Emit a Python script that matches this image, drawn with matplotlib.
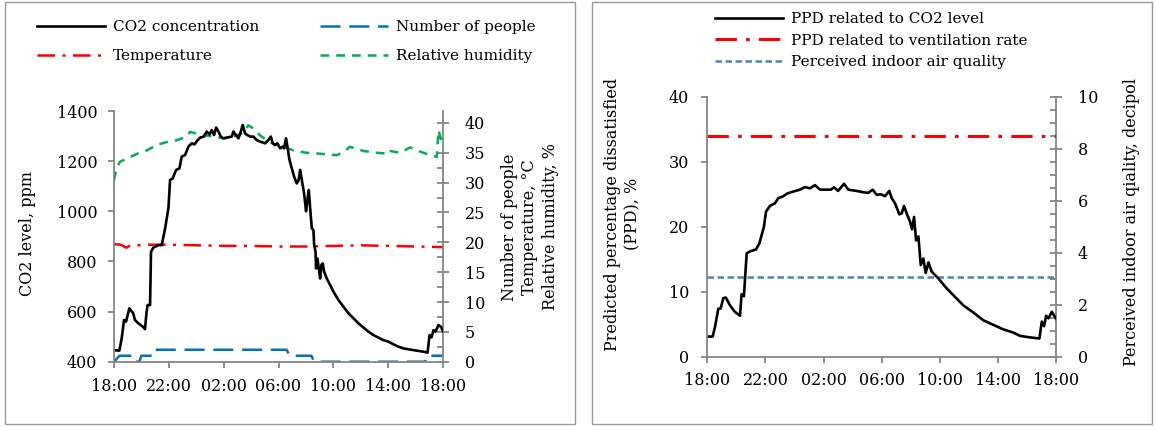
import matplotlib
matplotlib.use('Agg')
import matplotlib.pyplot as plt
from matplotlib.patches import Rectangle
from matplotlib.ticker import MultipleLocator

W, H = 1155, 426

# time axis: hours after 18:00
hour_ticks = [0, 4, 8, 12, 16, 20, 24]
hour_labels = ['18:00', '22:00', '02:00', '06:00', '10:00', '14:00', '18:00']

# --- left panel: measured indoor conditions ---
co2_t = [0, 0.39, 0.56, 0.73, 0.88, 1.12, 1.4, 1.53, 1.78, 2.1, 2.26, 2.38,
         2.45, 2.63, 2.7, 2.87, 3.24, 3.48, 3.73, 3.97, 4.09, 4.28, 4.53,
         4.77, 4.94, 5.18, 5.43, 5.67, 5.87, 6.11, 6.28, 6.57, 6.76, 6.96,
         7.13, 7.3, 7.45, 7.62, 7.79, 7.98, 8.23, 8.59, 8.71, 8.9, 9.08,
         9.25, 9.39, 9.56, 9.73, 9.93, 10.17, 10.41, 10.66, 11.02, 11.26,
         11.44, 11.58, 11.75, 11.92, 12.12, 12.31, 12.41, 12.55, 12.65,
         12.8, 12.97, 13.14, 13.33, 13.45, 13.58, 13.7, 13.87, 14.01, 14.11,
         14.21, 14.31, 14.43, 14.55, 14.6, 14.7, 14.74, 14.84, 14.94, 15.04,
         15.13, 15.23, 15.33, 15.52, 15.77, 16.01, 16.37, 16.74, 17.11,
         17.47, 17.83, 18.2, 18.56, 18.93, 19.29, 19.66, 20.02, 20.39,
         20.75, 21.12, 22.09, 22.58, 22.87, 23.02, 23.16, 23.31, 23.45,
         23.67, 23.84, 24.0]
co2_ppm = [446, 444, 493, 566, 560, 613, 593, 566, 553, 540, 530, 600,
           626, 626, 839, 855, 865, 865, 932, 1012, 1125, 1131, 1165,
           1171, 1218, 1224, 1258, 1271, 1267, 1284, 1294, 1298, 1318, 1307,
           1324, 1304, 1334, 1318, 1298, 1291, 1294, 1298, 1318, 1304, 1291,
           1318, 1344, 1311, 1304, 1298, 1298, 1284, 1278, 1271, 1284,
           1298, 1271, 1264, 1271, 1251, 1258, 1251, 1291, 1258,
           1205, 1171, 1138, 1111, 1121, 1165, 1125, 1070, 1000, 1045,
           1085, 1012, 932, 925, 865, 839, 772, 812, 772, 732,
           786, 792, 759, 732, 706, 679, 646, 619, 593,
           573, 553, 536, 520, 506, 496, 486, 480, 469,
           460, 453, 444, 440, 436, 506, 497, 526, 520,
           546, 540, 522]

people_t = [0, 0.4, 1.4, 1.55, 1.85, 2.0, 2.8, 2.92, 12.6, 12.8, 14.4, 14.6,
            22.7, 22.85, 24]
people_n = [0, 1, 1, 0, 0, 1, 1, 2, 2, 1, 1, 0, 0, 1, 1]

temp_t = [0, 0.5, 0.9, 1.2, 1.8, 2.3, 4, 6, 8, 10, 12, 14, 16, 18, 20, 22, 24]
temp_c = [19.7, 19.6, 19.1, 19.5, 19.5, 19.6, 19.6, 19.5, 19.4, 19.4, 19.3,
          19.3, 19.4, 19.5, 19.4, 19.3, 19.2]

rh_t = [0, 0.2, 0.44, 0.92, 1.65, 2.4, 3.1, 3.85, 4.57, 5.3, 5.55, 6.03,
        6.76, 7.25, 7.98, 8.7, 9.3, 9.56, 9.8, 10.17, 10.66, 11.14, 11.63,
        12.36, 13.1, 14.06, 15.28, 16.25, 16.74, 17.2, 18.2, 19.17, 19.78,
        19.9, 20.88, 21.6, 22.1, 22.58, 23.07, 23.55, 23.67, 23.8, 24.0]
rh_pct = [30.4, 32.6, 33.5, 34.0, 34.8, 35.4, 36.3, 36.8, 37.1, 37.7, 38.5,
          38.2, 37.9, 37.7, 37.4, 37.7, 38.2, 38.8, 39.6, 39.05, 37.9, 37.1,
          36.5, 36.0, 35.4, 35.0, 34.8, 34.6, 35.1, 36.0, 35.3, 35.0, 34.9,
          35.4, 35.0, 35.9, 35.4, 35.0, 34.6, 34.3, 38.8, 37.7, 36.0]

# --- right panel: derived comfort indices ---
ppd_t = [0, 0.37, 0.53, 0.76, 0.92, 1.1, 1.28, 1.56, 1.9, 2.25, 2.36, 2.52,
         2.71, 2.94, 3.35, 3.58, 3.9, 4.04, 4.31, 4.66, 4.89, 5.23, 5.5,
         5.9, 6.38, 6.72, 7.07, 7.41, 7.76, 8.2, 8.5, 8.72, 9.0, 9.41, 9.7,
         10.28, 10.74, 11.08, 11.38, 11.66, 11.93, 12.23, 12.53, 12.69,
         12.92, 13.22, 13.38, 13.54, 13.72, 13.95, 14.09, 14.23, 14.37,
         14.53, 14.69, 14.87, 15.03, 15.22, 15.44, 15.9, 16.48, 17.05,
         17.62, 18.31, 19.0, 19.69, 20.38, 21.07, 21.53, 22.21, 22.86,
         23.02, 23.18, 23.32, 23.48, 23.71, 24.0]
ppd_co2 = [3.1, 3.1, 4.6, 7.4, 7.4, 9.0, 9.1, 7.9, 6.9, 6.3, 9.6, 9.3,
           15.9, 16.2, 16.5, 17.4, 20.0, 22.3, 23.2, 23.6, 24.4, 24.7, 25.1,
           25.4, 25.7, 26.1, 25.9, 26.4, 25.7, 25.7, 25.7, 26.05, 25.5, 26.6,
           25.7, 25.5, 25.3, 25.2, 25.7, 24.9, 25.0, 24.7, 25.5, 24.4,
           23.6, 21.9, 22.05, 23.2, 22.05, 20.8, 19.6, 21.5, 17.9,
           18.5, 14.1, 15.1, 12.9, 14.5, 13.1, 12.05, 10.5, 9.2,
           7.9, 6.8, 5.6, 4.9, 4.2, 3.7, 3.2, 2.97, 2.8,
           5.4, 4.7, 6.3, 5.9, 6.9, 5.85]

span_t = [0, 24]
ppd_vent = [34.0, 34.0]
piaq_decipol = [3.05, 3.05]

SPINE = '#868686'
FS = 11.5


def style_axes(ax, right=False):
    for side in ('top', 'left', 'right', 'bottom'):
        ax.spines[side].set_visible(False)
    side = 'right' if right else 'left'
    ax.spines[side].set_visible(True)
    ax.spines[side].set_color(SPINE)
    ax.spines[side].set_linewidth(1.3)
    if not right:
        ax.spines['bottom'].set_visible(True)
        ax.spines['bottom'].set_color(SPINE)
        ax.spines['bottom'].set_linewidth(1.3)
    ax.tick_params(which='both', color=SPINE, width=1.3, labelsize=FS)


def right_ticks(ax, pad):
    # Excel style: major ticks cross the axis, minor ones sit inside
    ax.tick_params(axis='y', which='major', direction='inout', length=9,
                   pad=pad)
    ax.tick_params(axis='y', which='minor', direction='in', length=4)


def fig_frac(x, y):
    return x / W, 1 - y / H


fig = plt.figure(figsize=(W / 100, H / 100), dpi=100)
plt.rcParams['font.family'] = ['DejaVu Serif']

# panel frames
for x0, x1 in ((5, 575), (592, 1152)):
    fig.patches.append(Rectangle((x0 / W, 2 / H), (x1 - x0) / W, 1 - 4 / H,
                                 transform=fig.transFigure, fill=False,
                                 edgecolor='#9a9a9a', linewidth=1.0))

# ---------------- left panel ----------------
ax1 = fig.add_axes([114 / W, 1 - 361.7 / H, 329 / W, 250.7 / H])
ax2 = ax1.twinx()
ax1.set_zorder(ax2.get_zorder() + 1)
ax1.patch.set_visible(False)

l_co2, = ax1.plot(co2_t, co2_ppm, color='black', lw=1.9)
l_ppl, = ax2.plot(people_t, people_n, color='#0070c0', lw=1.8,
                  dashes=(8, 3.5))
l_tmp, = ax2.plot(temp_t, temp_c, color='#ff0000', lw=1.8,
                  dashes=(7, 3, 1.2, 3))
l_rh, = ax2.plot(rh_t, rh_pct, color='#00b050', lw=1.8, dashes=(3.5, 2.8))

ax1.set_xlim(0, 24)
ax1.set_ylim(400, 1400)
ax1.yaxis.set_major_locator(MultipleLocator(200))
ax1.set_xticks(hour_ticks)
ax1.set_xticklabels(hour_labels)
ax2.set_ylim(0, 42)
ax2.yaxis.set_major_locator(MultipleLocator(5))
ax2.yaxis.set_minor_locator(MultipleLocator(2.5))
style_axes(ax1)
style_axes(ax2, right=True)
ax1.tick_params(axis='y', direction='out', length=4, pad=8)
ax1.tick_params(axis='x', direction='out', length=4, pad=8)
right_ticks(ax2, pad=11)

fig.text(*fig_frac(28, 233), 'CO2 level, ppm', rotation=90, ha='center',
         va='center', fontsize=FS)
fig.text(*fig_frac(530, 227),
         'Number of people\nTemperature, °C\nRelative humidity, %',
         rotation=90, ha='center', va='center', fontsize=FS,
         multialignment='center', linespacing=1.3)

leg_kw = dict(frameon=False, fontsize=11, borderpad=0, borderaxespad=0,
              handlelength=4.45, handletextpad=0.5)
fig.legend([l_co2, l_tmp], ['CO2 concentration', 'Temperature'],
           loc='center left', bbox_to_anchor=fig_frac(37, 41.7),
           labelspacing=0.95, **leg_kw)
fig.legend([l_ppl, l_rh], ['Number of people', 'Relative humidity'],
           loc='center left', bbox_to_anchor=fig_frac(320, 41.7),
           labelspacing=0.95, **leg_kw)

# ---------------- right panel ----------------
ax3 = fig.add_axes([707.3 / W, 1 - 356.7 / H, 348.7 / W, 260 / H])
ax4 = ax3.twinx()
ax3.set_zorder(ax4.get_zorder() + 1)
ax3.patch.set_visible(False)

l_ppd, = ax3.plot(ppd_t, ppd_co2, color='black', lw=1.9)
l_vent, = ax3.plot(span_t, ppd_vent, color='#ff0000', lw=2.2,
                   dashes=(7, 3, 1.2, 3))
l_piaq, = ax4.plot(span_t, piaq_decipol, color='#4f81bd', lw=1.8,
                   dashes=(2.6, 1.4))

ax3.set_xlim(0, 24)
ax3.set_ylim(0, 40)
ax3.yaxis.set_major_locator(MultipleLocator(10))
ax3.set_xticks(hour_ticks)
ax3.set_xticklabels(hour_labels)
ax4.set_ylim(0, 10)
ax4.yaxis.set_major_locator(MultipleLocator(2))
ax4.yaxis.set_minor_locator(MultipleLocator(0.5))
style_axes(ax3)
style_axes(ax4, right=True)
ax3.tick_params(axis='y', direction='out', length=4, pad=9)
ax3.tick_params(axis='x', direction='out', length=4, pad=7)
right_ticks(ax4, pad=11)

fig.text(*fig_frac(622.5, 214),
         'Predicted percentage dissatisfied\n(PPD), %', rotation=90,
         ha='center', va='center', fontsize=FS, multialignment='center',
         linespacing=1.3)
fig.text(*fig_frac(1132, 222), 'Perceived indoor air qiality, decipol',
         rotation=90, ha='center', va='center', fontsize=FS)

fig.legend([l_ppd, l_vent, l_piaq],
           ['PPD related to CO2 level', 'PPD related to ventilation rate',
            'Perceived indoor air quality'],
           loc='center left', bbox_to_anchor=fig_frac(715, 40.8),
           labelspacing=0.5, **leg_kw)

fig.savefig('out.png', dpi=100)
plt.close(fig)
